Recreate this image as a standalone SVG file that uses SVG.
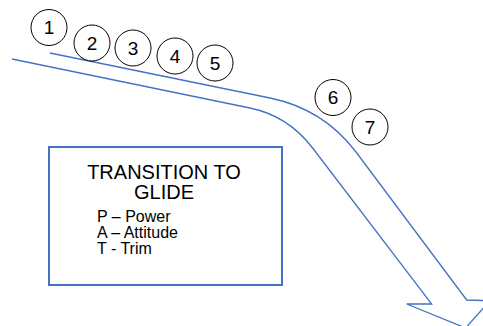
<svg xmlns="http://www.w3.org/2000/svg" width="483" height="326" viewBox="0 0 483 326">
<style>
.c{fill:#fff;stroke:#000;stroke-width:1}
.n{font-family:"Liberation Sans",Arial,sans-serif;font-size:19px;text-anchor:middle;fill:#000}
.t{font-family:"Liberation Sans",Arial,sans-serif;fill:#000}
.arrow{fill:none;stroke:#4472C4;stroke-width:1.3;stroke-linejoin:miter}
</style>
<rect width="483" height="326" fill="#fff"/>
<g id="connectors">
<path class="arrow" d="M50,53 L270,98 Q323.5,109 356,152 L466.7,300 L490,300.7 L465.6,328 L406.7,304 L431.7,304 L313,148.5 Q288.5,116 250,108 L12,59"/>
</g>
<g id="n1"><circle class="c" cx="49" cy="27.5" r="18"/><text class="n" x="49" y="34.3">1</text></g>
<g id="n2"><circle class="c" cx="92" cy="43" r="18"/><text class="n" x="92" y="49.8">2</text></g>
<g id="n3"><circle class="c" cx="133" cy="48" r="18"/><text class="n" x="133" y="54.8">3</text></g>
<g id="n4"><circle class="c" cx="175" cy="56" r="18"/><text class="n" x="175" y="62.8">4</text></g>
<g id="n5"><circle class="c" cx="215" cy="63" r="18"/><text class="n" x="215" y="69.8">5</text></g>
<g id="n6"><circle class="c" cx="333" cy="97.5" r="18"/><text class="n" x="333" y="104.3">6</text></g>
<g id="n7"><circle class="c" cx="370" cy="127" r="18"/><text class="n" x="370" y="133.8">7</text></g>
<g id="box">
<rect x="49" y="147" width="233" height="138" fill="#fff" stroke="#4472C4" stroke-width="2"/>
<text class="t" font-size="20" text-anchor="middle" x="164" y="178.5">TRANSITION TO</text>
<text class="t" font-size="20" text-anchor="middle" x="164" y="198.5">GLIDE</text>
<text class="t" font-size="16" x="97" y="222">P – Power</text>
<text class="t" font-size="16" x="97" y="238">A – Attitude</text>
<text class="t" font-size="16" x="97" y="254">T - Trim</text>
</g>
</svg>
